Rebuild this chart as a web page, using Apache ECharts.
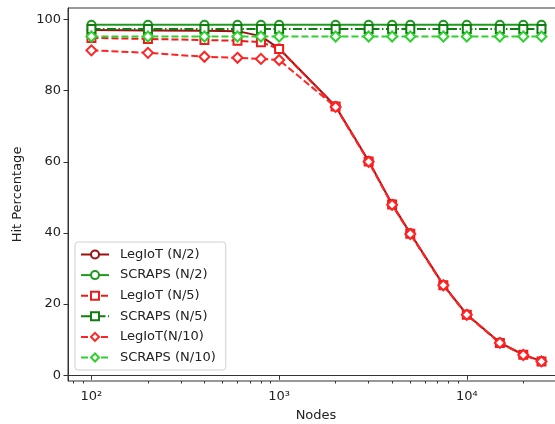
<!DOCTYPE html>
<html>
<head>
<meta charset="utf-8">
<script src="https://cdn.jsdelivr.net/npm/echarts@6/dist/echarts.min.js"></script>
<style>
  html, body { margin: 0; padding: 0; background: #fff; }
  #main { width: 555px; height: 424px; }
</style>
</head>
<body>
<div id="main"></div>
<script>
// node counts on the x axis (log scale)
var nodes = [100, 200, 400, 600, 800, 1000, 2000, 3000, 4000, 5000, 7500, 10000, 15000, 20000, 25000];

// hit percentage per series
var legiotHalf   = [97.0, 96.9, 96.8, 96.7, 95.3, 91.8, 75.6, 60.2, 48.1, 39.9, 25.4, 17.1, 9.2, 5.8, 4.0];
var scrapsHalf   = [98.5, 98.5, 98.5, 98.5, 98.5, 98.5, 98.5, 98.5, 98.5, 98.5, 98.5, 98.5, 98.5, 98.5, 98.5];
var legiotFifth  = [94.8, 94.5, 94.2, 94.0, 93.6, 91.7, 75.5, 60.1, 48.0, 39.8, 25.3, 17.0, 9.1, 5.8, 3.9];
var scrapsFifth  = [97.3, 97.3, 97.3, 97.3, 97.3, 97.3, 97.3, 97.3, 97.3, 97.3, 97.3, 97.3, 97.3, 97.3, 97.3];
var legiotTenth  = [91.3, 90.6, 89.5, 89.2, 88.9, 88.6, 75.4, 60.0, 47.9, 39.7, 25.3, 17.0, 9.1, 5.7, 3.9];
var scrapsTenth  = [95.2, 95.2, 95.2, 95.2, 95.2, 95.2, 95.2, 95.2, 95.2, 95.2, 95.2, 95.2, 95.2, 95.2, 95.2];

var seriesNames = ['LegIoT (N/2)', 'SCRAPS (N/2)', 'LegIoT (N/5)', 'SCRAPS (N/5)', 'LegIoT(N/10)', 'SCRAPS (N/10)'];

// tick positions
var majorTicks = [100, 1000, 10000];
var minorTicks = [80, 90, 200, 300, 400, 500, 600, 700, 800, 900,
                  2000, 3000, 4000, 5000, 6000, 7000, 8000, 9000, 20000, 30000];
var yTicks = [0, 20, 40, 60, 80, 100];

var FONT = 'DejaVu Sans';
var supers = { '2': '\u00b2', '3': '\u00b3', '4': '\u2074' };

function pairs(ys) {
  return nodes.map(function (x, i) { return [x, ys[i]]; });
}

function mkSeries(name, data, color, symbol, size, dash) {
  return {
    name: name,
    type: 'line',
    data: pairs(data),
    symbol: symbol,
    symbolSize: size,
    showSymbol: true,
    color: color,
    lineStyle: { color: color, width: 2, type: dash },
    itemStyle: { color: color, borderColor: color, borderWidth: 1.5 },
    emphasis: { disabled: true }
  };
}

var dashed = [7, 3];
var dashDot = [9, 2.5, 1.5, 2.5];

var myChart = echarts.init(document.getElementById('main'));

var option = {
  animation: false,
  textStyle: { fontFamily: FONT },
  grid: {
    left: 68, right: -9, top: 8, bottom: 43,
    outerBoundsMode: 'none',
    containLabel: false,
    show: true, borderColor: '#333', borderWidth: 1
  },
  legend: {
    orient: 'vertical',
    left: 75,
    top: 242,
    data: seriesNames,
    itemWidth: 28,
    itemHeight: 10,
    itemGap: 7.6,
    padding: [6, 10, 6, 5],
    backgroundColor: '#fff',
    borderColor: '#d0d0d0',
    borderWidth: 1,
    borderRadius: 3,
    textStyle: { fontFamily: FONT, fontSize: 13, color: '#222', padding: [0, 0, 0, 6] }
  },
  xAxis: [{
    type: 'log',
    logBase: 10,
    min: 75,
    max: 32960,
    name: 'Nodes',
    nameLocation: 'middle',
    nameGap: 28,
    nameTextStyle: { fontFamily: FONT, fontSize: 13, color: '#222' },
    axisLine: { show: true, lineStyle: { color: '#333', width: 1 } },
    axisTick: { show: true, length: 4.5, customValues: majorTicks, lineStyle: { color: '#333' } },
    axisLabel: {
      customValues: majorTicks,
      margin: 9,
      fontFamily: FONT, fontSize: 13, color: '#222',
      formatter: function (v) {
        var e = String(Math.round(Math.log(v) / Math.LN10));
        return '10' + (supers[e] || e);
      }
    },
    splitLine: { show: false }
  }, {
    type: 'log',
    logBase: 10,
    min: 75,
    max: 32960,
    position: 'bottom',
    axisLine: { show: false },
    axisTick: { show: true, length: 2.5, customValues: minorTicks, lineStyle: { color: '#333' } },
    axisLabel: { show: false },
    splitLine: { show: false }
  }],
  yAxis: {
    type: 'value',
    min: -1.6,
    max: 103.2,
    name: 'Hit Percentage',
    nameLocation: 'middle',
    nameGap: 44,
    nameTextStyle: { fontFamily: FONT, fontSize: 13, color: '#222' },
    axisLine: { show: true, lineStyle: { color: '#333', width: 1 } },
    axisTick: { show: true, length: 4.5, customValues: yTicks, lineStyle: { color: '#333' } },
    axisLabel: { customValues: yTicks, margin: 7, fontFamily: FONT, fontSize: 13, color: '#222' },
    splitLine: { show: false }
  },
  series: [
    mkSeries(seriesNames[0], legiotHalf, '#9b1010', 'emptyCircle', 8, 'solid'),
    mkSeries(seriesNames[1], scrapsHalf, '#1f9a1f', 'emptyCircle', 8, 'solid'),
    mkSeries(seriesNames[2], legiotFifth, '#ec1c1c', 'emptyRect', 8, dashed),
    mkSeries(seriesNames[3], scrapsFifth, '#0f7d0f', 'emptyRect', 8, dashDot),
    mkSeries(seriesNames[4], legiotTenth, '#ff2424', 'emptyDiamond', 10, dashed),
    mkSeries(seriesNames[5], scrapsTenth, '#30d030', 'emptyDiamond', 10, dashed)
  ]
};

myChart.setOption(option);
</script>
</body>
</html>
